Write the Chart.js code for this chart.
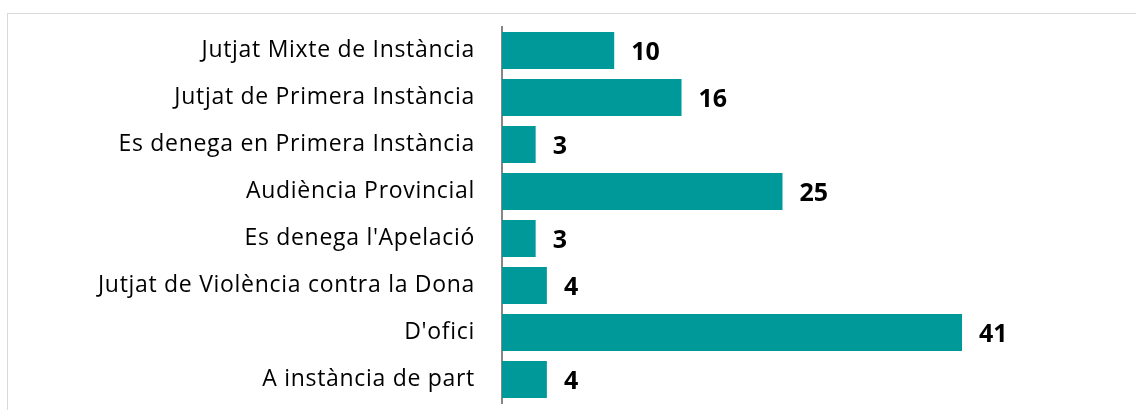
<!DOCTYPE html>
<html>
<head>
<meta charset="utf-8">
<script src="https://cdn.jsdelivr.net/npm/chart.js@4/dist/chart.umd.min.js"></script>
<style>
  html, body { margin: 0; padding: 0; background: #fff; }
  #wrap { width: 1136px; height: 410px; position: relative; }
</style>
</head>
<body>
<div id="wrap"><canvas id="barChart"></canvas></div>
<script>
const categories = [
    'Jutjat Mixte de Instància',
    'Jutjat de Primera Instància',
    'Es denega en Primera Instància',
    'Audiència Provincial',
    "Es denega l'Apelació",
    'Jutjat de Violència contra la Dona',
    "D'ofici",
    'A instància de part'
];
const counts = [10, 16, 3, 25, 3, 4, 41, 4];
const axisMax = 50;

// light grey frame round the chart area, slightly wider category labels
const framePlugin = {
    id: 'frame',
    beforeDraw(chart) {
        const c = chart.ctx;
        c.save();
        c.strokeStyle = '#d9d9d9';
        c.lineWidth = 1;
        c.strokeRect(7.5, 13.5, chart.width + 10, chart.height + 10);
        c.restore();
        c.letterSpacing = '0.7px';
    },
    beforeDatasetsDraw(chart) {
        chart.ctx.letterSpacing = '0px';
    }
};

// bold value labels to the right of each bar
const valueLabels = {
    id: 'valueLabels',
    afterDatasetsDraw(chart) {
        const c = chart.ctx;
        const meta = chart.getDatasetMeta(0);
        c.save();
        c.font = "bold 25px 'Open Sans', sans-serif";
        c.fillStyle = '#000000';
        c.textAlign = 'left';
        c.textBaseline = 'middle';
        meta.data.forEach((bar, i) => {
            c.fillText(String(counts[i]), bar.x + 17, bar.y + 2);
        });
        c.restore();
    }
};

const ctx = document.getElementById('barChart').getContext('2d');
new Chart(ctx, {
    type: 'bar',
    data: {
        labels: categories,
        datasets: [{
            data: counts,
            backgroundColor: '#009999',
            borderWidth: 0,
            categoryPercentage: 1.0,
            barPercentage: 0.79
        }]
    },
    options: {
        indexAxis: 'y',
        responsive: true,
        maintainAspectRatio: false,
        animation: false,
        layout: {
            padding: {left: 0, right: 73, top: 27, bottom: 7}
        },
        plugins: {
            legend: {display: false},
            tooltip: {enabled: false}
        },
        scales: {
            x: {
                display: false,
                min: 0,
                max: axisMax
            },
            y: {
                afterFit(scale) { scale.width = 502; },
                grid: {display: false, drawTicks: true, tickLength: 27},
                border: {display: true, color: '#868686', width: 2},
                ticks: {
                    color: '#000000',
                    padding: 0,
                    font: {size: 23, family: "'Open Sans', sans-serif", lineHeight: 0.6}
                }
            }
        }
    },
    plugins: [framePlugin, valueLabels]
});
</script>
</body>
</html>
